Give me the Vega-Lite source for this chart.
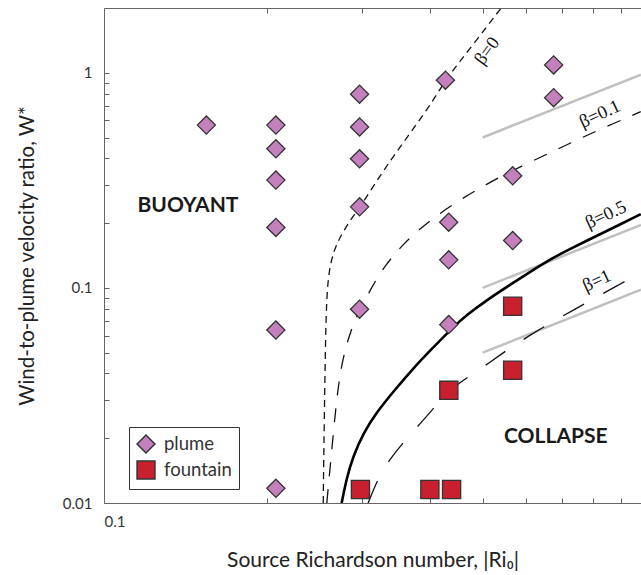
{
  "$schema": "https://vega.github.io/schema/vega-lite/v6.json",
  "width": 537,
  "height": 495,
  "autosize": {"type": "none"},
  "padding": {"left": 104, "top": 8, "right": 0, "bottom": 72},
  "background": "white",
  "config": {
    "view": {"stroke": null},
    "font": "Lato",
    "axis": {
      "domainColor": "#666",
      "tickColor": "#666",
      "tickSize": -5,
      "grid": false,
      "labelColor": "#333",
      "labelFont": "Lato",
      "labelFontSize": 15,
      "titleFont": "Lato",
      "titleFontSize": 20.5,
      "titleFontWeight": "normal",
      "titleColor": "#222"
    }
  },
  "datasets": {
    "pts": [
      {"Ri": 0.1545, "W": 0.571, "type": "plume"},
      {"Ri": 0.2076, "W": 0.571, "type": "plume"},
      {"Ri": 0.2076, "W": 0.443, "type": "plume"},
      {"Ri": 0.2076, "W": 0.317, "type": "plume"},
      {"Ri": 0.2076, "W": 0.191, "type": "plume"},
      {"Ri": 0.2076, "W": 0.0637, "type": "plume"},
      {"Ri": 0.2076, "W": 0.0117, "type": "plume"},
      {"Ri": 0.2963, "W": 0.795, "type": "plume"},
      {"Ri": 0.2963, "W": 0.56, "type": "plume"},
      {"Ri": 0.2963, "W": 0.398, "type": "plume"},
      {"Ri": 0.2963, "W": 0.238, "type": "plume"},
      {"Ri": 0.2963, "W": 0.0796, "type": "plume"},
      {"Ri": 0.4268, "W": 0.923, "type": "plume"},
      {"Ri": 0.4328, "W": 0.202, "type": "plume"},
      {"Ri": 0.4328, "W": 0.135, "type": "plume"},
      {"Ri": 0.4328, "W": 0.0675, "type": "plume"},
      {"Ri": 0.568, "W": 0.332, "type": "plume"},
      {"Ri": 0.568, "W": 0.166, "type": "plume"},
      {"Ri": 0.6761, "W": 1.088, "type": "plume"},
      {"Ri": 0.6761, "W": 0.766, "type": "plume"},
      {"Ri": 0.2974, "W": 0.01155, "type": "fountain"},
      {"Ri": 0.3995, "W": 0.01155, "type": "fountain"},
      {"Ri": 0.4381, "W": 0.01155, "type": "fountain"},
      {"Ri": 0.433, "W": 0.0334, "type": "fountain"},
      {"Ri": 0.568, "W": 0.0821, "type": "fountain"},
      {"Ri": 0.568, "W": 0.0414, "type": "fountain"}
    ],
    "asym": [
      {"series": "a", "Ri": 0.5, "W": 0.5},
      {"series": "a", "Ri": 0.98, "W": 0.98},
      {"series": "b", "Ri": 0.5, "W": 0.1},
      {"series": "b", "Ri": 0.98, "W": 0.196},
      {"series": "c", "Ri": 0.5, "W": 0.05},
      {"series": "c", "Ri": 0.98, "W": 0.098}
    ],
    "curves": [
      {"beta": "0", "Ri": 0.2539, "W": 0.01},
      {"beta": "0", "Ri": 0.2546, "W": 0.01822},
      {"beta": "0", "Ri": 0.2557, "W": 0.03717},
      {"beta": "0", "Ri": 0.2568, "W": 0.0706},
      {"beta": "0", "Ri": 0.2582, "W": 0.0972},
      {"beta": "0", "Ri": 0.2604, "W": 0.1204},
      {"beta": "0", "Ri": 0.2649, "W": 0.1465},
      {"beta": "0", "Ri": 0.2725, "W": 0.1719},
      {"beta": "0", "Ri": 0.2844, "W": 0.2056},
      {"beta": "0", "Ri": 0.2968, "W": 0.2369},
      {"beta": "0", "Ri": 0.3277, "W": 0.3507},
      {"beta": "0", "Ri": 0.3517, "W": 0.4498},
      {"beta": "0", "Ri": 0.3776, "W": 0.5778},
      {"beta": "0", "Ri": 0.4052, "W": 0.7413},
      {"beta": "0", "Ri": 0.4257, "W": 0.918},
      {"beta": "0", "Ri": 0.4797, "W": 1.349},
      {"beta": "0", "Ri": 0.5417, "W": 2.01},
      {"beta": "0.1", "Ri": 0.2578, "W": 0.01},
      {"beta": "0.1", "Ri": 0.2646, "W": 0.02027},
      {"beta": "0.1", "Ri": 0.2706, "W": 0.03588},
      {"beta": "0.1", "Ri": 0.278, "W": 0.05122},
      {"beta": "0.1", "Ri": 0.2884, "W": 0.06813},
      {"beta": "0.1", "Ri": 0.2968, "W": 0.07911},
      {"beta": "0.1", "Ri": 0.3096, "W": 0.09725},
      {"beta": "0.1", "Ri": 0.3281, "W": 0.1248},
      {"beta": "0.1", "Ri": 0.3566, "W": 0.1602},
      {"beta": "0.1", "Ri": 0.3924, "W": 0.1984},
      {"beta": "0.1", "Ri": 0.4349, "W": 0.2395},
      {"beta": "0.1", "Ri": 0.4852, "W": 0.2841},
      {"beta": "0.1", "Ri": 0.5384, "W": 0.328},
      {"beta": "0.1", "Ri": 0.6101, "W": 0.3834},
      {"beta": "0.1", "Ri": 0.6891, "W": 0.4423},
      {"beta": "0.1", "Ri": 0.7719, "W": 0.5072},
      {"beta": "0.1", "Ri": 0.8702, "W": 0.5797},
      {"beta": "0.1", "Ri": 0.979, "W": 0.6592},
      {"beta": "0.5", "Ri": 0.2746, "W": 0.01},
      {"beta": "0.5", "Ri": 0.2804, "W": 0.01303},
      {"beta": "0.5", "Ri": 0.2884, "W": 0.0165},
      {"beta": "0.5", "Ri": 0.301, "W": 0.02109},
      {"beta": "0.5", "Ri": 0.3185, "W": 0.02639},
      {"beta": "0.5", "Ri": 0.3442, "W": 0.03357},
      {"beta": "0.5", "Ri": 0.3722, "W": 0.04224},
      {"beta": "0.5", "Ri": 0.3995, "W": 0.05095},
      {"beta": "0.5", "Ri": 0.4423, "W": 0.0662},
      {"beta": "0.5", "Ri": 0.467, "W": 0.07484},
      {"beta": "0.5", "Ri": 0.5157, "W": 0.0898},
      {"beta": "0.5", "Ri": 0.5613, "W": 0.1031},
      {"beta": "0.5", "Ri": 0.6559, "W": 0.1333},
      {"beta": "0.5", "Ri": 0.7242, "W": 0.1516},
      {"beta": "0.5", "Ri": 0.811, "W": 0.1742},
      {"beta": "0.5", "Ri": 0.8954, "W": 0.1969},
      {"beta": "0.5", "Ri": 0.979, "W": 0.2203},
      {"beta": "1", "Ri": 0.3073, "W": 0.01},
      {"beta": "1", "Ri": 0.3193, "W": 0.01276},
      {"beta": "1", "Ri": 0.3371, "W": 0.01609},
      {"beta": "1", "Ri": 0.3619, "W": 0.01993},
      {"beta": "1", "Ri": 0.4007, "W": 0.02648},
      {"beta": "1", "Ri": 0.433, "W": 0.03341},
      {"beta": "1", "Ri": 0.4716, "W": 0.03879},
      {"beta": "1", "Ri": 0.5157, "W": 0.04505},
      {"beta": "1", "Ri": 0.5588, "W": 0.05216},
      {"beta": "1", "Ri": 0.6109, "W": 0.06012},
      {"beta": "1", "Ri": 0.6699, "W": 0.06931},
      {"beta": "1", "Ri": 0.7334, "W": 0.07852},
      {"beta": "1", "Ri": 0.8052, "W": 0.0898},
      {"beta": "1", "Ri": 0.8877, "W": 0.1026},
      {"beta": "1", "Ri": 0.979, "W": 0.1179}
    ],
    "regions": [
      {"label": "BUOYANT", "Ri": 0.1429, "W": 0.2412},
      {"label": "COLLAPSE", "Ri": 0.6823, "W": 0.0202}
    ],
    "betalabels": [
      {"label": "β=0", "Ri": 0.5087, "W": 1.265, "group": "steep"},
      {"label": "β=0.1", "Ri": 0.8223, "W": 0.6452, "group": "flat"},
      {"label": "β=0.5", "Ri": 0.8436, "W": 0.2192, "group": "flat"},
      {"label": "β=1", "Ri": 0.812, "W": 0.1082, "group": "flat"}
    ]
  },
  "resolve": {"axis": {"x": "independent"}},
  "layer": [
    {
      "encoding": {
        "x": {
          "field": "Ri",
          "type": "quantitative",
          "scale": {"type": "log", "domain": [0.1, 0.98], "nice": false},
          "axis": {
            "orient": "bottom",
            "values": [0.1, 0.2, 0.3, 0.4, 0.5, 0.6, 0.7, 0.8, 0.9],
            "labelExpr": "datum.value == 0.1 ? '0.1' : ''",
            "labelPadding": 16,
            "title": "Source Richardson number, |Ri₀|",
            "titleFontSize": 21,
            "titlePadding": 20
          }
        },
        "y": {
          "field": "W",
          "type": "quantitative",
          "scale": {"type": "log", "domain": [0.01, 2], "nice": false},
          "axis": {
            "values": [0.01, 0.02, 0.03, 0.04, 0.05, 0.06, 0.07, 0.08, 0.09, 0.1, 0.2, 0.3, 0.4, 0.5, 0.6, 0.7, 0.8, 0.9, 1, 2],
            "labelExpr": "datum.value == 1 ? '1' : datum.value == 0.1 ? '0.1' : datum.value == 0.01 ? '0.01' : ''",
            "labelPadding": 17,
            "title": "Wind-to-plume velocity ratio, W*",
            "titlePadding": 25
          }
        }
      },
      "layer": [
        {
          "data": {"name": "asym"},
          "mark": {"type": "line", "color": "#c0c0c0", "strokeWidth": 2.5, "clip": true},
          "encoding": {"detail": {"field": "series"}}
        },
        {
          "data": {"name": "curves"},
          "transform": [{"filter": "datum.beta == '0'"}],
          "mark": {"type": "line", "color": "#111", "strokeWidth": 1.3, "strokeDash": [7, 5], "interpolate": "basis", "clip": true},
          "encoding": {}
        },
        {
          "data": {"name": "curves"},
          "transform": [{"filter": "datum.beta == '0.1'"}],
          "mark": {"type": "line", "color": "#111", "strokeWidth": 1.3, "strokeDash": [14, 13], "interpolate": "basis", "clip": true},
          "encoding": {}
        },
        {
          "data": {"name": "curves"},
          "transform": [{"filter": "datum.beta == '0.5'"}],
          "mark": {"type": "line", "color": "#000", "strokeWidth": 2.6, "interpolate": "basis", "clip": true},
          "encoding": {}
        },
        {
          "data": {"name": "curves"},
          "transform": [{"filter": "datum.beta == '1'"}],
          "mark": {"type": "line", "color": "#111", "strokeWidth": 1.3, "strokeDash": [24, 22], "interpolate": "basis", "clip": true},
          "encoding": {}
        },
        {
          "data": {"name": "pts"},
          "mark": {"type": "point", "filled": true, "opacity": 1, "stroke": "#333", "strokeWidth": 1.3, "size": 330},
          "encoding": {
            "color": {
              "field": "type",
              "type": "nominal",
              "scale": {"domain": ["plume", "fountain"], "range": ["#c47fbd", "#c8202e"]},
              "legend": {
                "title": null,
                "orient": "none",
                "legendX": 25,
                "legendY": 419,
                "strokeColor": "#333",
                "fillColor": "white",
                "padding": 7,
                "labelFont": "Lato",
                "labelFontSize": 18.5,
                "labelColor": "#333",
                "symbolSize": 320,
                "symbolOpacity": 1,
                "rowPadding": 2,
                "labelOffset": 8,
                "encode": {"symbols": {"update": {"stroke": {"value": "#333"}, "strokeWidth": {"value": 1.3}}}}
              }
            },
            "shape": {
              "field": "type",
              "type": "nominal",
              "scale": {"domain": ["plume", "fountain"], "range": ["diamond", "square"]},
              "legend": {
                "title": null,
                "orient": "none",
                "legendX": 25,
                "legendY": 419,
                "strokeColor": "#333",
                "fillColor": "white",
                "padding": 7,
                "labelFont": "Lato",
                "labelFontSize": 18.5,
                "labelColor": "#333",
                "symbolSize": 320,
                "symbolOpacity": 1,
                "rowPadding": 2,
                "labelOffset": 8,
                "encode": {"symbols": {"update": {"stroke": {"value": "#333"}, "strokeWidth": {"value": 1.3}}}}
              }
            }
          }
        },
        {
          "data": {"name": "regions"},
          "mark": {"type": "text", "font": "Lato", "fontWeight": "bold", "fontSize": 21, "color": "#1a1a1a", "align": "center", "baseline": "middle"},
          "encoding": {"text": {"field": "label"}}
        },
        {
          "data": {"name": "betalabels"},
          "transform": [{"filter": "datum.group == 'steep'"}],
          "mark": {"type": "text", "font": "Liberation Serif", "fontSize": 18.5, "color": "#111", "angle": 306, "align": "center", "baseline": "middle"},
          "encoding": {"text": {"field": "label"}}
        },
        {
          "data": {"name": "betalabels"},
          "transform": [{"filter": "datum.group == 'flat'"}],
          "mark": {"type": "text", "font": "Liberation Serif", "fontSize": 18.5, "color": "#111", "angle": 335, "align": "center", "baseline": "middle"},
          "encoding": {"text": {"field": "label"}}
        }
      ]
    },
    {
      "data": {"name": "pts"},
      "mark": {"type": "point", "opacity": 0},
      "encoding": {
        "x": {
          "field": "Ri",
          "type": "quantitative",
          "scale": {"type": "log", "domain": [0.1, 0.98], "nice": false},
          "axis": {
            "orient": "top",
            "values": [0.2, 0.3, 0.4, 0.5, 0.6, 0.7, 0.8, 0.9],
            "labels": false,
            "title": null
          }
        },
        "y": {"field": "W", "type": "quantitative"}
      }
    }
  ]
}
